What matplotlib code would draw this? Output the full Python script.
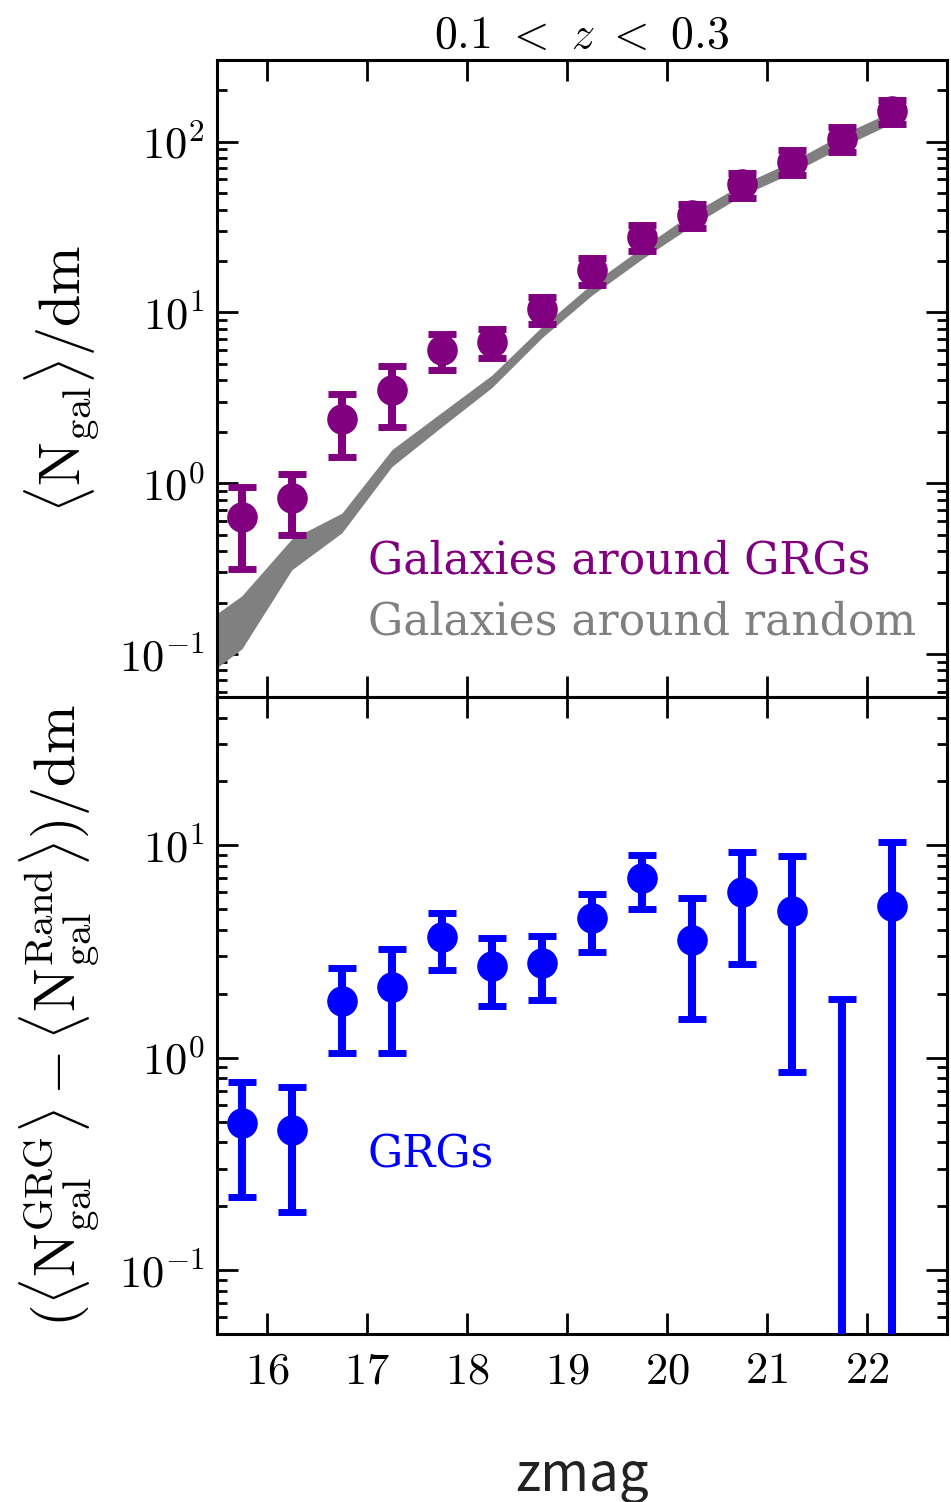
import numpy as np
import matplotlib
matplotlib.use('Agg')
import matplotlib.pyplot as plt
from matplotlib.ticker import FuncFormatter
import warnings
warnings.filterwarnings('ignore')

plt.rcParams['mathtext.fontset'] = 'cm'
plt.rcParams['font.family'] = ['DejaVu Serif']

# magnitude bins
zmag = np.array([15.75, 16.25, 16.75, 17.25, 17.75, 18.25, 18.75,
                 19.25, 19.75, 20.25, 20.75, 21.25, 21.75, 22.25])

# galaxies around GRGs
n_grg = np.array([0.634, 0.815, 2.38, 3.49, 6.04, 6.67, 10.4,
                  17.7, 27.8, 37.0, 56.2, 76.4, 104.0, 150.0])
n_grg_err = np.array([0.32, 0.32, 0.95, 1.36, 1.47, 1.3, 1.9,
                      3.2, 4.8, 6.0, 9.5, 13.0, 17.0, 24.0])

# galaxies around random positions (band)
rand_x = np.array([15.5, 15.75, 16.25, 16.75, 17.25, 17.75, 18.25, 18.75,
                   19.25, 19.75, 20.25, 20.75, 21.25, 21.75, 22.25])
rand_lo = np.array([0.083, 0.107, 0.311, 0.512, 1.25, 2.14, 3.63, 7.1,
                    12.6, 20.5, 32.1, 48.3, 65.4, 93.0, 128.0])
rand_hi = np.array([0.172, 0.219, 0.472, 0.667, 1.57, 2.6, 4.29, 8.24,
                    14.7, 23.9, 38.0, 56.2, 76.4, 110.0, 150.0])

# excess counts
excess = np.array([0.493, 0.457, 1.85, 2.15, 3.70, 2.71, 2.80,
                   4.54, 7.0, 3.59, 6.06, 4.89, -0.6, 5.16])
excess_err = np.array([0.273, 0.27, 0.80, 1.10, 1.12, 0.95, 0.94,
                       1.38, 1.98, 2.07, 3.29, 4.03, 2.49, 5.24])

purple = '#800080'
grey = '#808080'
blue = '#0000ff'

fig = plt.figure(figsize=(9.51, 15.02), dpi=100)
ax1 = fig.add_axes([0.228, 0.536, 0.7678, 0.424])
ax2 = fig.add_axes([0.228, 0.1119, 0.7678, 0.4241], sharex=ax1)

eb = dict(fmt='o', markersize=21, elinewidth=5.8, capsize=10, capthick=5,
          zorder=3)

ax1.fill_between(rand_x, rand_lo, rand_hi, color=grey, linewidth=0, zorder=2)
ax1.errorbar(zmag, n_grg, yerr=n_grg_err, color=purple, **eb)
ax1.set_yscale('log')
ax1.set_ylim(0.056, 300)
ax1.text(0.207, 0.2135, 'Galaxies around GRGs', color=purple, fontsize=31.7,
         transform=ax1.transAxes, va='center', ha='left')
ax1.text(0.207, 0.118, 'Galaxies around random', color=grey, fontsize=31.7,
         transform=ax1.transAxes, va='center', ha='left')
ax1.set_title(r'$0.1\ <\ z\ <\ 0.3$', fontsize=33, pad=9)
ax1.set_ylabel(r'$\langle \mathrm{N_{gal}} \rangle / \mathrm{dm}$', fontsize=42)
ax1.tick_params(labelbottom=False)

ax2.errorbar(zmag, excess, yerr=excess_err, color=blue, **eb)
ax2.set_yscale('log')
ax2.set_ylim(0.05, 50)
ax2.text(0.207, 0.281, 'GRGs', color=blue, fontsize=31.7,
         transform=ax2.transAxes, va='center', ha='left')
ax2.set_ylabel(r'$(\langle \mathrm{N^{GRG}_{gal}} \rangle - '
               r'\langle \mathrm{N^{Rand}_{gal}} \rangle) / \mathrm{dm}$',
               fontsize=42)
ax2.set_xlabel('zmag', fontsize=38, color='#222222',
               family=['Noto Sans CJK SC', 'DejaVu Sans'], labelpad=40)

ax2.set_xlim(15.5, 22.8)
ax2.set_xticks([16, 17, 18, 19, 20, 21, 22])
ax2.set_xticklabels([r'$%d$' % v for v in range(16, 23)])

pow_fmt = FuncFormatter(lambda v, pos: r'$10^{%d}$' % round(np.log10(v)))

for ax in (ax1, ax2):
    for s in ax.spines.values():
        s.set_linewidth(2.2)
    ax.yaxis.set_major_formatter(pow_fmt)
    ax.tick_params(which='both', direction='in', top=True, right=True,
                   width=2, labelsize=32)
    ax.tick_params(which='major', length=15, pad=9)
    ax.tick_params(which='minor', length=7)
    ax.tick_params(axis='x', which='minor', top=False, bottom=False)
    ax.tick_params(axis='x', pad=11)
    ax.yaxis.set_label_coords(-0.158, 0.5)

fig.savefig('out.png', dpi=100)
